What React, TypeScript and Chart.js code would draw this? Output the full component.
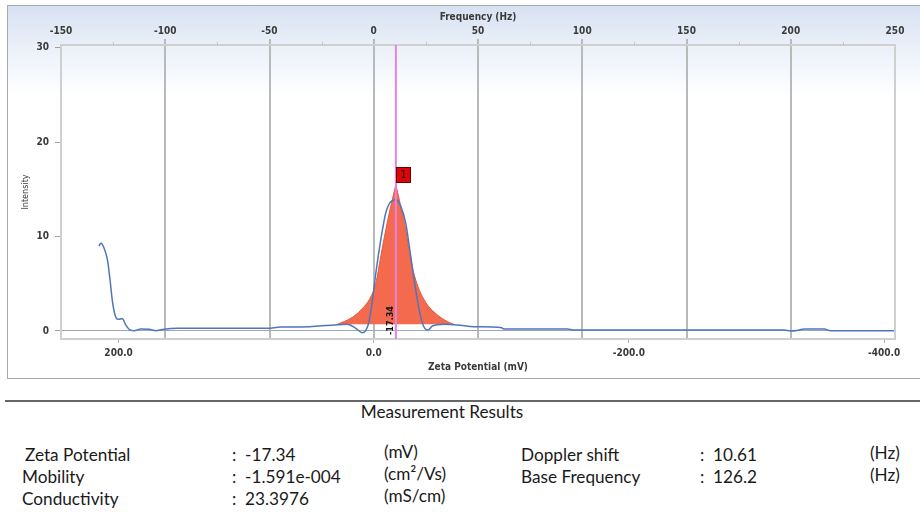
import React, { useEffect, useRef } from "react";
import { Chart, registerables } from "chart.js";

Chart.register(...registerables);

// ---------- data ----------
// Measured intensity curve, plotted against the Zeta Potential axis (mV)
const curveMv = [
  215.3, 214, 211.4, 208.7, 206.7, 204.8, 202.8, 200.4, 197, 194.4, 191.8, 187.9,
  182.6, 176, 170.9, 165.6, 153.9, 120, 83.3, 72.9, 57.2, 31.1, 20.6, 14.1, 8.9,
  6.3, 3.7, 1.0, -1.6, -5.5, -9.4, -13.3, -17.2, -21.2, -25.1, -29, -32.9, -36.8,
  -40, -42.6, -46, -55.1, -65.6, -78.6, -99.5, -102, -151.8, -157, -321.6, -326.8,
  -333.4, -337.3, -353, -358.2, -409,
];
const curveIntensity = [
  9.0, 9.3, 8.8, 7.5, 5.4, 3.1, 1.7, 1.24, 1.3, 0.64, 0.18, 0.03,
  0.2, 0.18, 0.03, 0.16, 0.28, 0.28, 0.28, 0.42, 0.42, 0.64, 0.71, 0.28, -0.18,
  0.03, 0.99, 3.3, 6.1, 9.65, 12.5, 13.7, 13.9, 13.2, 11.4, 7.9, 4.35, 1.5,
  0.28, 0.1, 0.53, 0.71, 0.64, 0.46, 0.37, 0.21, 0.21, 0.1, 0.1, 0.0,
  0.1, 0.21, 0.21, 0.03, 0.03,
];

// Fitted peak (filled), split at the peak so the top stays pointed
const peakLeftMv = [28.5, 18.0, 10.2, 2.4, -1.6, -5.5, -9.4, -13.3, -17.34];
const peakLeftIntensity = [0.7, 1.35, 2.2, 3.6, 5.05, 7.9, 10.7, 13.2, 15.5];
const peakRightMv = [-17.34, -21.2, -25.1, -29, -32.9, -36.8, -42.1, -49.9, -57.8, -62.9];
const peakRightIntensity = [15.5, 13.2, 10.7, 7.5, 5.4, 4.0, 2.76, 1.7, 0.99, 0.7];
const peakBase = 0.7;

// Axes
const freqRange = [-150, 250];
const freqTicks = [-150, -100, -50, 0, 50, 100, 150, 200, 250];
const freqMinorTicks = [-125, -75, -25, 25, 75, 125, 175, 225];
const zetaTicks = [200, 0, -200, -400];
const intensityRange = [-0.85, 30.3];
const intensityTicks = [0, 10, 20, 30];

// Results
const zetaPotential = -17.34;
const dopplerShift = 10.61;
const peakLabel = "1";

const resultNames = ["Zeta Potential", "Mobility", "Conductivity"];
const resultValues = [":  -17.34", ":  -1.591e-004", ":  23.3976"];
const resultUnits = ["(mV)", "(cm\u00b2/Vs)", "(mS/cm)"];
const freqNames = ["Doppler shift", "Base Frequency"];
const freqValues = [":  10.61", ":  126.2"];
const freqUnits = ["(Hz)", "(Hz)"];

// ---------- derived scale mapping (mV <-> Hz are linear) ----------
const mvPerHz = zetaPotential / dopplerShift;
const mvAtLeft = freqRange[0] * mvPerHz;
const mvAtRight = freqRange[1] * mvPerHz;

const AXIS_FAMILY = "'DejaVu Sans Condensed', 'DejaVu Sans', sans-serif";
const AXIS_FONT = { family: AXIS_FAMILY, size: 10, weight: "bold" };
const AXIS_COLOR = "#3a3a3a";
const TRANSPARENT = "rgba(0,0,0,0)";

const overlayPlugin = {
  id: "overlay",
  afterDatasetsDraw(chart: any) {
    const { ctx, chartArea: a, scales } = chart;
    const xb = scales.xb;
    const xt = scales.xt;
    const y = scales.y;
    ctx.save();
    // right border of plot
    ctx.strokeStyle = "#cfcfcf";
    ctx.lineWidth = 2;
    ctx.beginPath();
    ctx.moveTo(a.right, a.top);
    ctx.lineTo(a.right, a.bottom);
    ctx.stroke();
    // minor ticks of frequency axis
    ctx.strokeStyle = "#c4c4c4";
    ctx.lineWidth = 1;
    freqMinorTicks.forEach((v) => {
      const px = Math.round(xt.getPixelForValue(v)) + 0.5;
      ctx.beginPath();
      ctx.moveTo(px, a.top);
      ctx.lineTo(px, a.top - 3);
      ctx.stroke();
    });
    // peak marker line
    const px = xb.getPixelForValue(zetaPotential);
    ctx.strokeStyle = "#e283e2";
    ctx.lineWidth = 2;
    ctx.beginPath();
    ctx.moveTo(px, a.top);
    ctx.lineTo(px, a.bottom);
    ctx.stroke();
    // rotated value label
    ctx.save();
    ctx.translate(px - 5, a.bottom - 4);
    ctx.rotate(-Math.PI / 2);
    ctx.fillStyle = "#111111";
    ctx.font = "bold 9px " + AXIS_FAMILY;
    ctx.textAlign = "left";
    ctx.textBaseline = "middle";
    ctx.fillText(String(zetaPotential), 0, 0);
    ctx.restore();
    // red peak box
    const py = y.getPixelForValue(peakLeftIntensity[peakLeftIntensity.length - 1]);
    const bx = Math.round(px) + 0.5;
    const by = Math.round(py - 18) + 0.5;
    ctx.fillStyle = "#d80808";
    ctx.strokeStyle = "#6a0000";
    ctx.lineWidth = 1;
    ctx.fillRect(bx, by, 14, 15);
    ctx.strokeRect(bx, by, 14, 15);
    ctx.fillStyle = "#2a0000";
    ctx.font = "10px " + AXIS_FAMILY;
    ctx.textAlign = "center";
    ctx.textBaseline = "middle";
    ctx.fillText(peakLabel, bx + 7, by + 8);
    ctx.restore();
  },
};

export default function App() {
  const ref = useRef<HTMLCanvasElement>(null);

  useEffect(() => {
    const canvas = ref.current;
    if (!canvas) return;
    const chart = new Chart(canvas, {
      type: "line",
      data: {
        datasets: [
          {
            label: "Intensity",
            data: curveMv.map((x, i) => ({ x, y: curveIntensity[i] })),
            xAxisID: "xb",
            yAxisID: "y",
            borderColor: "#4d77b8",
            borderWidth: 1.5,
            pointRadius: 0,
            fill: false,
            cubicInterpolationMode: "monotone",
            order: 0,
          },
          {
            label: "Peak left",
            data: peakLeftMv.map((x, i) => ({ x, y: peakLeftIntensity[i] })),
            xAxisID: "xb",
            yAxisID: "y",
            borderColor: "#e8583c",
            backgroundColor: "#f36a4f",
            borderWidth: 1,
            pointRadius: 0,
            fill: { value: peakBase },
            cubicInterpolationMode: "monotone",
            order: 1,
          },
          {
            label: "Peak right",
            data: peakRightMv.map((x, i) => ({ x, y: peakRightIntensity[i] })),
            xAxisID: "xb",
            yAxisID: "y",
            borderColor: "#e8583c",
            backgroundColor: "#f36a4f",
            borderWidth: 1,
            pointRadius: 0,
            fill: { value: peakBase },
            cubicInterpolationMode: "monotone",
            order: 1,
          },
        ],
      } as any,
      options: {
        responsive: false,
        maintainAspectRatio: false,
        animation: false,
        devicePixelRatio: 1,
        layout: { padding: { left: 0, right: 25, top: 0, bottom: 0 } },
        plugins: {
          legend: { display: false },
          tooltip: { enabled: false },
        },
        elements: { point: { radius: 0 } },
        scales: {
          xt: {
            type: "linear",
            position: "top",
            min: freqRange[0],
            max: freqRange[1],
            afterBuildTicks: (s: any) => {
              s.ticks = freqTicks.map((v) => ({ value: v }));
            },
            afterFit: (s: any) => {
              s.height = 45;
            },
            ticks: {
              color: AXIS_COLOR,
              font: AXIS_FONT,
              padding: 2,
              maxRotation: 0,
              autoSkip: false,
            },
            grid: {
              color: (c: any) =>
                c.tick && (c.tick.value === freqRange[0] || c.tick.value === freqRange[1])
                  ? TRANSPARENT
                  : "#b9b9b9",
              tickColor: (c: any) =>
                c.tick && (c.tick.value === freqRange[0] || c.tick.value === freqRange[1])
                  ? TRANSPARENT
                  : "#b9b9b9",
              lineWidth: 2,
              tickLength: 6,
            },
            border: { display: true, color: "#cfcfcf", width: 2 },
            title: {
              display: true,
              text: "Frequency (Hz)",
              color: AXIS_COLOR,
              font: AXIS_FONT,
              padding: { top: 11, bottom: 0 },
            },
          },
          xb: {
            type: "linear",
            position: "bottom",
            reverse: true,
            min: mvAtRight,
            max: mvAtLeft,
            afterBuildTicks: (s: any) => {
              s.ticks = zetaTicks.map((v) => ({ value: v }));
            },
            afterFit: (s: any) => {
              s.height = 41;
            },
            ticks: {
              color: AXIS_COLOR,
              font: AXIS_FONT,
              padding: 4,
              maxRotation: 0,
              autoSkip: false,
              callback: (v: any) => Number(v).toFixed(1),
            },
            grid: {
              drawOnChartArea: false,
              tickLength: 4,
              tickColor: "#b0b0b0",
              lineWidth: 1,
            },
            border: { display: true, color: "#cfcfcf", width: 2 },
            title: {
              display: true,
              text: "Zeta Potential (mV)",
              color: AXIS_COLOR,
              font: AXIS_FONT,
              padding: { top: 0, bottom: 7 },
            },
          },
          y: {
            type: "linear",
            position: "left",
            min: intensityRange[0],
            max: intensityRange[1],
            afterBuildTicks: (s: any) => {
              s.ticks = intensityTicks.map((v) => ({ value: v }));
            },
            afterFit: (s: any) => {
              s.width = 61;
            },
            ticks: {
              color: AXIS_COLOR,
              font: AXIS_FONT,
              padding: 6,
            },
            grid: {
              color: (c: any) => (c.tick && c.tick.value === 0 ? "#9fa7b2" : TRANSPARENT),
              tickColor: "#a0a0a0",
              lineWidth: 1,
              tickLength: 6,
            },
            border: { display: true, color: "#cfcfcf", width: 2 },
            title: {
              display: true,
              text: "Intensity",
              color: AXIS_COLOR,
              font: { family: AXIS_FAMILY, size: 9 },
              padding: { top: 20, bottom: 0 },
            },
          },
        },
      } as any,
      plugins: [overlayPlugin],
    });
    return () => chart.destroy();
  }, []);

  const textFont = "Lato, 'Open Sans', sans-serif";
  const FS = 17.2;
  const t = (
    key: string,
    text: string,
    left: number,
    cy: number
  ) => (
    <div
      key={key}
      style={{
        position: "absolute",
        left,
        top: cy - 11,
        fontFamily: textFont,
        fontSize: FS,
        lineHeight: "21px",
        color: "#1a1a1a",
        whiteSpace: "pre",
      }}
    >
      {text}
    </div>
  );

  const rowY = [455, 476.5, 498.5];
  const unitY = [452, 474, 496];
  const hzUnitY = [453, 474.5];

  return (
    <div
      style={{
        position: "fixed",
        left: 0,
        top: 0,
        width: 920,
        height: 512,
        background: "#ffffff",
        overflow: "hidden",
      }}
    >
      <div
        style={{
          position: "absolute",
          left: 7,
          top: 5,
          width: 920,
          height: 372,
          border: "1px solid #a9a9a9",
          background:
            "linear-gradient(to bottom, #d6e1f1 0px, #e8eef8 35px, #ffffff 90px, #ffffff 100%)",
        }}
      />
      <canvas
        ref={ref}
        width={920}
        height={380}
        style={{ position: "absolute", left: 0, top: 0, width: 920, height: 380 }}
      />
      <div
        style={{
          position: "absolute",
          left: 5,
          top: 400,
          width: 920,
          height: 0,
          borderTop: "2px solid #666666",
        }}
      />
      <div
        style={{
          position: "absolute",
          left: 0,
          width: 884,
          top: 411.7 - 11,
          textAlign: "center",
          fontFamily: textFont,
          fontSize: FS,
          lineHeight: "21px",
          color: "#1a1a1a",
        }}
      >
        Measurement Results
      </div>
      {resultNames.map((s, i) => t("n" + i, s, i === 0 ? 25 : 22, rowY[i]))}
      {resultValues.map((s, i) => t("v" + i, s, 232, rowY[i]))}
      {resultUnits.map((s, i) => t("u" + i, s, 384, unitY[i]))}
      {freqNames.map((s, i) => t("fn" + i, s, 521, rowY[i]))}
      {freqValues.map((s, i) => t("fv" + i, s, 700, rowY[i]))}
      {freqUnits.map((s, i) => t("fu" + i, s, 870, hzUnitY[i]))}
    </div>
  );
}
